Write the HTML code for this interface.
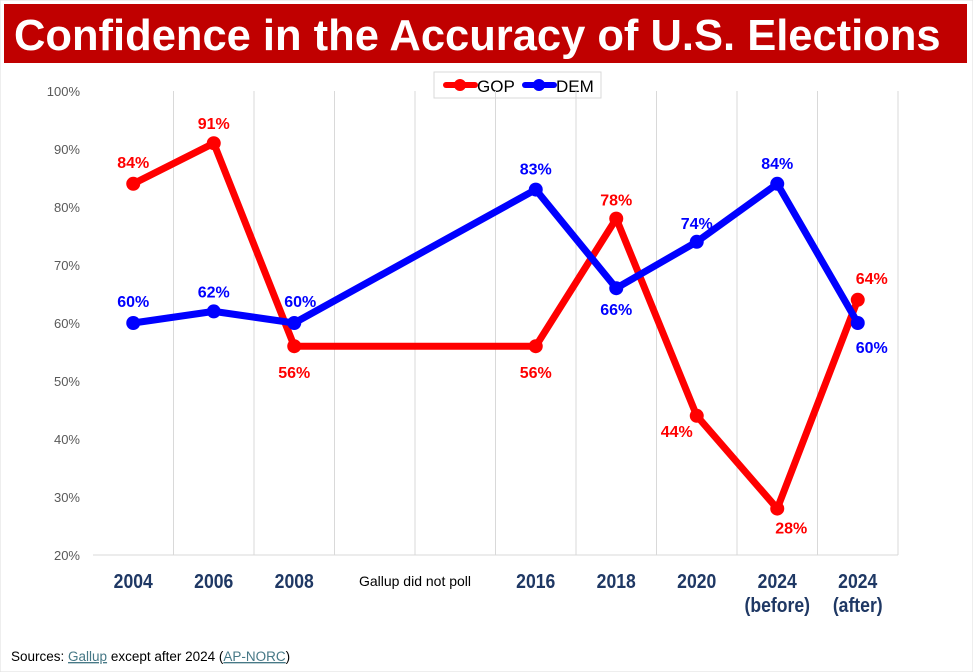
<!DOCTYPE html>
<html><head><meta charset="utf-8"><style>
body{margin:0;background:#fff;}
svg{display:block;font-family:"Liberation Sans",Arial,sans-serif;}
</style></head><body>
<svg id="c" width="973" height="672" viewBox="0 0 973 672">
<rect x="0" y="0" width="973" height="672" fill="#fff" stroke="#ddd"/>
<rect x="4" y="4" width="963" height="59" fill="#c00000"/>
<text x="14" y="50" fill="#fff" font-size="43.5" font-weight="bold">Confidence in the Accuracy of U.S. Elections</text>
<g>
<rect x="434" y="72" width="167" height="26" fill="#fff" stroke="#d9d9d9"/>
<line x1="446" y1="85" x2="475" y2="85" stroke="#f00" stroke-width="6" stroke-linecap="round"/>
<circle cx="460" cy="85" r="6" fill="#f00"/>
<text x="477" y="92" font-size="17" fill="#000">GOP</text>
<line x1="525" y1="85" x2="554" y2="85" stroke="#00f" stroke-width="6" stroke-linecap="round"/>
<circle cx="539" cy="85" r="6" fill="#00f"/>
<text x="556" y="92" font-size="17" fill="#000">DEM</text>
</g>
<g id="grid"></g><g id="axes"></g><g id="series"></g><g id="labels"></g>
<text x="11" y="661" font-size="13.5" fill="#000">Sources: <tspan fill="#467886" text-decoration="underline">Gallup</tspan> except after 2024 (<tspan fill="#467886" text-decoration="underline">AP-NORC</tspan>)</text>
</svg>
<script>
const categories=["2004","2006","2008","2016","2018","2020","2024|(before)","2024|(after)"];
const slots=[0,1,2,5,6,7,8,9];
const gop=[84,91,56,56,78,44,28,64];
const dem=[60,62,60,83,66,74,84,60];
const yTicks=[20,30,40,50,60,70,80,90,100];
const NS="http://www.w3.org/2000/svg";
const L=93,R=898,T=91,B=555,N=10,SW=(R-L)/N;
const x=i=>L+SW*(i+0.5);
const y=v=>B-(v-20)/80*(B-T);
function mk(tag,at,parent,txt){const e=document.createElementNS(NS,tag);for(const k in at)e.setAttribute(k,at[k]);if(txt!==undefined)e.textContent=txt;parent.appendChild(e);return e;}
const grid=document.getElementById('grid'),axes=document.getElementById('axes'),ser=document.getElementById('series'),lab=document.getElementById('labels');
for(let k=1;k<=N;k++){const g=mk('line',{x1:L+SW*k,x2:L+SW*k,y1:T,y2:B,stroke:'#d9d9d9'},grid);

}
const ax=mk('line',{x1:L,x2:R,y1:B,y2:B,stroke:'#d9d9d9'},axes);


yTicks.forEach(v=>{const t=mk('text',{x:80,y:y(v)+5,'text-anchor':'end','font-size':13,fill:'#595959'},axes,v+'%');

});
categories.forEach((c,i)=>{const parts=c.split('|');parts.forEach((p,j)=>{const t=mk('text',{x:x(slots[i]),y:588+j*24,'text-anchor':'middle','font-size':20,'font-weight':'bold',fill:'#1f3864',transform:`translate(${x(slots[i])},0) scale(0.88,1) translate(${-x(slots[i])},0)`},axes,p);

});});
const gap=mk('text',{x:L+SW*4,y:586,'text-anchor':'middle','font-size':14,fill:'#000'},axes,'Gallup did not poll');


function series(vals,color,name){
 const pts=vals.map((v,i)=>x(slots[i])+','+y(v)).join(' ');
 const pl=mk('polyline',{points:pts,fill:'none',stroke:color,'stroke-width':7,'stroke-linejoin':'round'},ser);
 
 
 vals.forEach((v,i)=>{const c=mk('circle',{cx:x(slots[i]),cy:y(v),r:7,fill:color},ser);
 
 });
}
series(gop,'#f00','gop');series(dem,'#00f','dem');
const gopOff=[[0,-21],[0,-19],[0,27],[0,27],[0,-18],[-20,16],[14,20],[14,-21]];
const demOff=[[0,-21],[0,-19],[6,-21],[0,-20],[0,22],[0,-18],[0,-20],[14,25]];
function labels(vals,off,color,name){vals.forEach((v,i)=>{const t=mk('text',{x:x(slots[i])+off[i][0],y:y(v)+off[i][1]+5,'text-anchor':'middle','font-size':16,'font-weight':'bold',fill:color},lab,v+'%');

});}
labels(gop,gopOff,'#f00','gop');labels(dem,demOff,'#00f','dem');
</script>
</body></html>
